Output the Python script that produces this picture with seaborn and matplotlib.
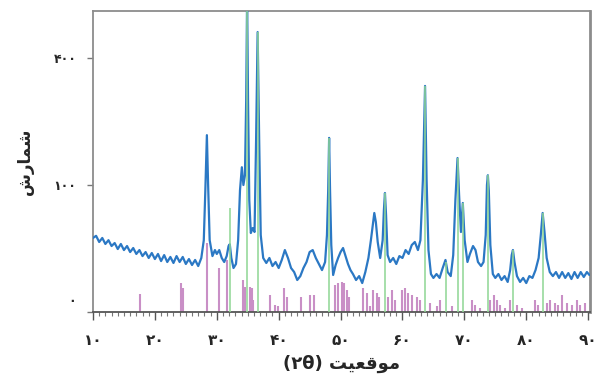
import numpy as np
import pandas as pd
import matplotlib
matplotlib.use("Agg")
import matplotlib.pyplot as plt
import matplotlib.transforms as mtransforms
from matplotlib.ticker import FixedLocator, MultipleLocator
import seaborn as sns

# ---- data (2-theta in degrees, counts) ----
scan_2theta = [10.0, 10.5, 11.0, 11.5, 12.0, 12.5, 13.0, 13.5, 14.0, 14.5, 15.0, 15.5, 16.0, 16.5,
               17.0, 17.5, 18.0, 18.5, 19.0, 19.5, 20.0, 20.5, 21.0, 21.5, 22.0, 22.5, 23.0, 23.5,
               24.0, 24.5, 25.0, 25.5, 26.0, 26.5, 27.0, 27.5, 27.9, 28.15, 28.4, 28.6, 28.85,
               29.3, 29.7, 30.0, 30.4, 30.8, 31.2, 31.6, 31.9, 32.1, 32.35, 32.7, 33.1, 33.45,
               33.75, 34.05, 34.3, 34.55, 34.75, 34.9, 35.05, 35.25, 35.5, 35.8, 36.1, 36.35,
               36.6, 36.85, 37.1, 37.5, 38.0, 38.5, 39.0, 39.5, 40.0, 40.5, 41.0, 41.5, 42.0,
               42.5, 43.0, 43.5, 44.0, 44.5, 45.0, 45.5, 46.0, 46.5, 47.0, 47.5, 47.8, 48.0,
               48.15, 48.3, 48.5, 48.8, 49.2, 49.6, 50.0, 50.4, 50.8, 51.2, 51.6, 52.0, 52.5,
               53.0, 53.5, 54.0, 54.5, 54.9, 55.2, 55.45, 55.7, 56.0, 56.4, 56.8, 57.0, 57.17,
               57.35, 57.6, 58.0, 58.5, 59.0, 59.5, 60.0, 60.5, 61.0, 61.5, 62.0, 62.5, 62.9,
               63.3, 63.65, 63.9, 64.2, 64.6, 65.0, 65.5, 66.0, 66.5, 66.95, 67.3, 67.8, 68.2,
               68.55, 68.9, 69.15, 69.45, 69.75, 70.05, 70.5, 70.9, 71.4, 71.8, 72.2, 72.7,
               73.1, 73.45, 73.65, 73.8, 73.95, 74.2, 74.6, 75.0, 75.5, 76.0, 76.5, 77.0, 77.4,
               77.65, 77.85, 78.1, 78.5, 79.0, 79.5, 80.0, 80.5, 81.0, 81.5, 82.0, 82.35, 82.65,
               82.95, 83.3, 83.8, 84.3, 84.8, 85.3, 85.8, 86.3, 86.8, 87.3, 87.8, 88.3, 88.8,
               89.3, 89.8, 90.2]
scan_counts = [34, 36, 30.4, 34, 28.7, 32, 27, 29.5, 24.6, 28.7, 23.8, 27, 22.3, 25.4,
               20.9, 23.8, 19.4, 22.3, 18.1, 21.6, 17.4, 20.9, 16.1, 20.1, 15.5, 18.8, 14.9, 19.4,
               15.5, 18.8, 14.3, 17.4, 13.7, 16.8, 13.1, 18.1, 32, 92, 194, 100, 32,
               19.4, 23.8, 20.9, 23.8, 18.1, 15.5, 19.4, 27, 28.5, 18.1, 12.0, 14.3, 32,
               92, 130, 100, 116, 279, 620, 279, 77.8, 38.7, 43.7, 39.7, 183,
               486, 183, 36.8, 18.1, 14.9, 18.1, 13.1, 15.5, 12.0, 16.8, 23.8, 18.1, 12.0,
               9.9, 6.35, 8.0, 12.0, 15.5, 22.3, 23.8, 18.1, 14.3, 10.9, 15.5, 36.8, 92,
               188, 92, 27.8, 8.5, 13.7, 18.1, 22.3, 25.4, 19.4, 14.3, 10.9, 8.95, 6.35,
               8.0, 5.2, 9.9, 18.1, 32, 46.9, 60.8, 50.2, 30.4, 18.1, 32, 64.5, 87.8,
               58.3, 20.1, 15.5, 18.1, 14.3, 19.4, 18.1, 23.8, 20.9, 27.8, 30.4, 23.8, 32,
               108, 317, 108, 23.8, 8.95, 7.2, 8.95, 7.2, 12.0, 16.8, 9.9, 8.0, 20.1,
               77.8, 147, 85, 39.7, 73.7, 32, 15.5, 20.9, 27, 23.8, 15.5, 13.1,
               15.5, 36.8, 100, 116, 92, 27.8, 8.95, 7.2, 8.95, 6.35, 8.0, 5.6, 10.9,
               20.1, 23.8, 15.5, 8.0, 5.6, 7.2, 5.2, 8.0, 7.2, 10.9, 18.1, 36.8, 60.8,
               39.7, 18.1, 9.9, 8.0, 9.9, 7.2, 9.9, 7.2, 9.4, 6.75, 9.9, 7.2, 9.9,
               7.6, 9.9, 8.5]

ref_main_pos = [32.1, 34.88, 36.62, 48.13, 57.17, 63.64, 67.0, 68.9, 69.77, 73.8, 77.85, 82.65]
ref_main_int = [67, 620, 486, 188, 88, 317, 15.5, 147, 74, 116, 23.8, 61]

ref_second_pos = [17.6, 24.17, 24.54, 28.37, 30.36, 31.6, 34.23, 34.56, 35.36, 35.64, 35.85,
                  38.6, 39.4, 39.84, 40.86, 41.29, 43.6, 45.06, 45.7, 49.1, 49.6, 50.18, 50.55,
                  50.99, 51.36, 53.62, 54.22, 54.75, 55.23, 55.83, 56.2, 57.66, 58.25, 58.79,
                  59.87, 60.4, 60.89, 61.49, 62.3, 62.83, 64.44, 65.53, 66.06, 67.95, 71.23,
                  71.7, 72.52, 74.1, 74.78, 75.27, 75.75, 76.56, 77.37, 78.45, 79.26, 81.4,
                  81.89, 83.3, 83.83, 84.64, 85.12, 85.72, 86.53, 87.33, 88.14, 88.68, 89.48]
ref_second_int = [2.0, 5.2, 3.6, 29.5, 12, 16.8, 6.3, 3.9, 3.9, 3.6, 0.9,
                  1.8, 0.3, 0.2, 3.6, 1.4, 1.4, 1.8, 1.8, 4.5, 5.2, 5.6, 5.2,
                  3.0, 1.4, 3.6, 2.2, 0.2, 3.0, 2.2, 1.4, 1.4, 3.0, 0.9,
                  3.0, 3.6, 2.2, 1.8, 1.4, 0.9, 0.5, 0.2, 0.9, 0.2, 0.9,
                  0.3, 0.1, 0.9, 1.8, 0.9, 0.3, 0.1, 0.9, 0.3, 0.1, 0.9,
                  0.3, 0.5, 0.9, 0.5, 0.3, 1.8, 0.5, 0.3, 0.9, 0.3, 0.5]

x_ticks = [10, 20, 30, 40, 50, 60, 70, 80, 90]
x_tick_labels = ["۱۰", "۲۰", "۳۰", "۴۰", "۵۰", "۶۰", "۷۰", "۸۰", "۹۰"]
y_ticks = [0, 100, 400]
y_tick_labels = ["۰", "۱۰۰", "۴۰۰"]
# Persian labels, written in shaped presentation forms in visual order
x_label = "(۲θ) ﺖﯿﻌﻗﻮﻣ"
y_label = "ﺵﺭﺎﻤﺷ"

# ---- plot ----
sns.set_theme(style="white")
plt.rcParams["font.family"] = ["DejaVu Sans"]

fig = plt.figure(figsize=(6.01, 3.85), dpi=100)
ax = fig.add_axes([93 / 601, 1 - 312 / 385, (590 - 93) / 601, (312 - 11) / 385])

ax.set_yscale("function", functions=(lambda v: np.sqrt(np.clip(v, 0, None)),
                                     lambda v: np.square(v)))

df = pd.DataFrame({"two_theta": scan_2theta, "counts": scan_counts})
sns.lineplot(data=df, x="two_theta", y="counts", ax=ax, color="#2b78c4",
             linewidth=1.6, estimator=None, sort=False, zorder=3)

ax.vlines(ref_second_pos, 0, ref_second_int, color="#c98fc6", linewidth=1.5, zorder=2)
ax.vlines(ref_main_pos, 0, ref_main_int, color="#8fd694", linewidth=1.3, alpha=0.85, zorder=4)

ax.set_xlim(10, 90.3)
ax.set_ylim(0, 562)

ax.xaxis.set_major_locator(FixedLocator(x_ticks))
ax.xaxis.set_minor_locator(MultipleLocator(1))
ax.set_xticks(x_ticks)
ax.set_xticklabels(x_tick_labels, fontsize=11, fontweight="bold")
ax.set_yticks(y_ticks)
ax.set_yticklabels(y_tick_labels, fontsize=9, fontweight="bold")
ax.yaxis.set_minor_locator(FixedLocator([]))

ax.tick_params(axis="x", which="major", direction="out", length=6, width=1, color="#555555",
               pad=9, bottom=True)
ax.tick_params(axis="x", which="minor", direction="out", length=3, width=0.8, color="#777777",
               bottom=True)
ax.tick_params(axis="y", which="major", direction="out", length=4, width=1, color="#777777",
               pad=8, left=True)

# the zero label sits a little above the axis line in the reference
zero_lab = ax.yaxis.get_major_ticks()[0].label1
zero_lab.set_transform(zero_lab.get_transform() +
                       mtransforms.ScaledTranslation(0, 12 / 100, fig.dpi_scale_trans))

ax.set_xlabel(x_label, fontsize=13, fontweight="bold", labelpad=5)
ax.set_ylabel(y_label, fontsize=12, fontweight="bold", labelpad=14)

for side in ["left", "top", "right"]:
    ax.spines[side].set_color("#8c8c8c")
    ax.spines[side].set_linewidth(1.3)
ax.spines["right"].set_linewidth(2)
ax.spines["bottom"].set_color("#555555")
ax.spines["bottom"].set_linewidth(1.3)

fig.savefig("out.png", dpi=100, facecolor="white")
